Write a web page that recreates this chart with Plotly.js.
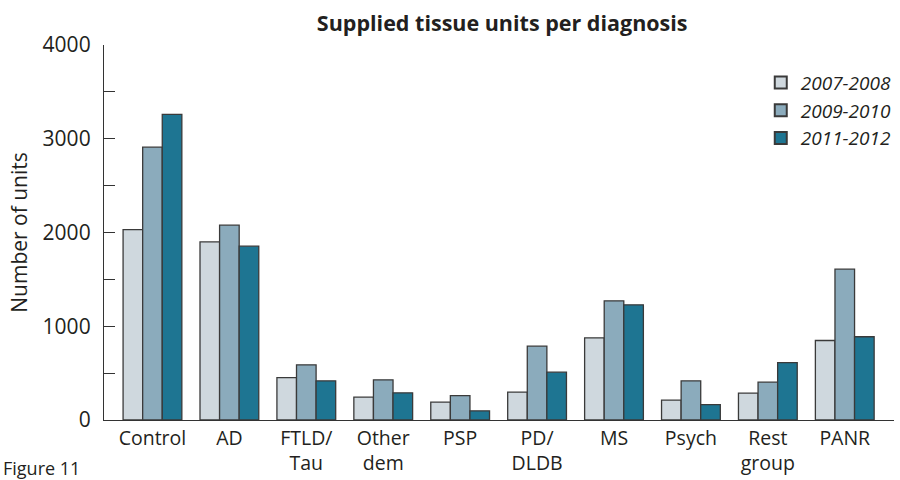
<!DOCTYPE html>
<html>
<head>
<meta charset="utf-8">
<script src="https://cdn.plot.ly/plotly-3.0.1.min.js"></script>
<style>html,body{margin:0;padding:0;background:#fff;}#chart{width:900px;height:480px;}</style>
</head>
<body>
<div id="chart"></div>
<script>
var categories = ["Control", "AD", "FTLD/<br>Tau", "Other<br>dem", "PSP", "PD/<br>DLDB", "MS", "Psych", "Rest<br>group", "PANR"];
var seriesNames = ["2007-2008", "2009-2010", "2011-2012"];
var values0708 = [2030, 1900, 452, 243, 190, 297, 877, 211, 286, 848];
var values0910 = [2910, 2078, 589, 429, 261, 787, 1271, 418, 403, 1609];
var values1112 = [3259, 1854, 418, 290, 98, 510, 1229, 165, 613, 888];
var colors = ["#cfd8de", "#8babbc", "#1e7592"];
var yTicks = [0, 1000, 2000, 3000, 4000];

var allVals = [values0708, values0910, values1112];
var traces = allVals.map(function (v, i) {
  return {
    type: "bar",
    name: seriesNames[i],
    x: categories,
    y: v,
    marker: {color: colors[i], line: {color: "#3a3a3a", width: 1.3}},
    hoverinfo: "x+y+name"
  };
});

var fontFam = "Open Sans, sans-serif";
var txt = "#231f20";
var layout = {
  width: 900, height: 480,
  margin: {l: 104, r: 3, t: 45, b: 60},
  paper_bgcolor: "#fff", plot_bgcolor: "#fff",
  barmode: "group", bargap: 0.236, bargroupgap: 0,
  title: {text: "<b>Supplied tissue units per diagnosis</b>", font: {family: fontFam, size: 21.5, color: txt}, x: 0.558, xanchor: "center", y: 0.952, yanchor: "middle"},
  font: {family: fontFam, color: txt},
  xaxis: {
    type: "category", range: [-0.63, 9.64],
    showline: true, linecolor: "#333", linewidth: 1.3,
    ticks: "", showgrid: false, zeroline: false,
    ticklabelstandoff: 0,
    tickfont: {family: fontFam, size: 19.5, color: txt}
  },
  yaxis: {
    range: [0, 4000], tickvals: yTicks,
    showline: true, linecolor: "#333", linewidth: 1.3,
    ticks: "inside", ticklen: 11, tickcolor: "#333", tickwidth: 1.3,
    minor: {dtick: 500, ticks: "inside", ticklen: 11, tickcolor: "#333", tickwidth: 1.3, showgrid: false},
    showgrid: false, zeroline: false,
    tickfont: {family: fontFam, size: 21, color: txt},
    ticklabelstandoff: 8,
    title: {text: "Number of units", font: {family: fontFam, size: 21, color: txt}, standoff: 9}
  },
  legend: {
    x: 1.0035, xanchor: "right", y: 0.95, yanchor: "top",
    font: {family: fontFam, size: 19, style: "italic", color: txt},
    bgcolor: "rgba(0,0,0,0)", tracegroupgap: 4, itemsizing: "constant"
  },
  showlegend: true,
  annotations: [{
    text: "Figure 11", xref: "paper", yref: "paper", x: -0.131, y: -0.165,
    xanchor: "left", yanchor: "bottom", showarrow: false,
    font: {family: fontFam, size: 18, color: txt}
  }]
};

Plotly.newPlot("chart", traces, layout, {displayModeBar: false, staticPlot: false});
</script>
</body>
</html>
